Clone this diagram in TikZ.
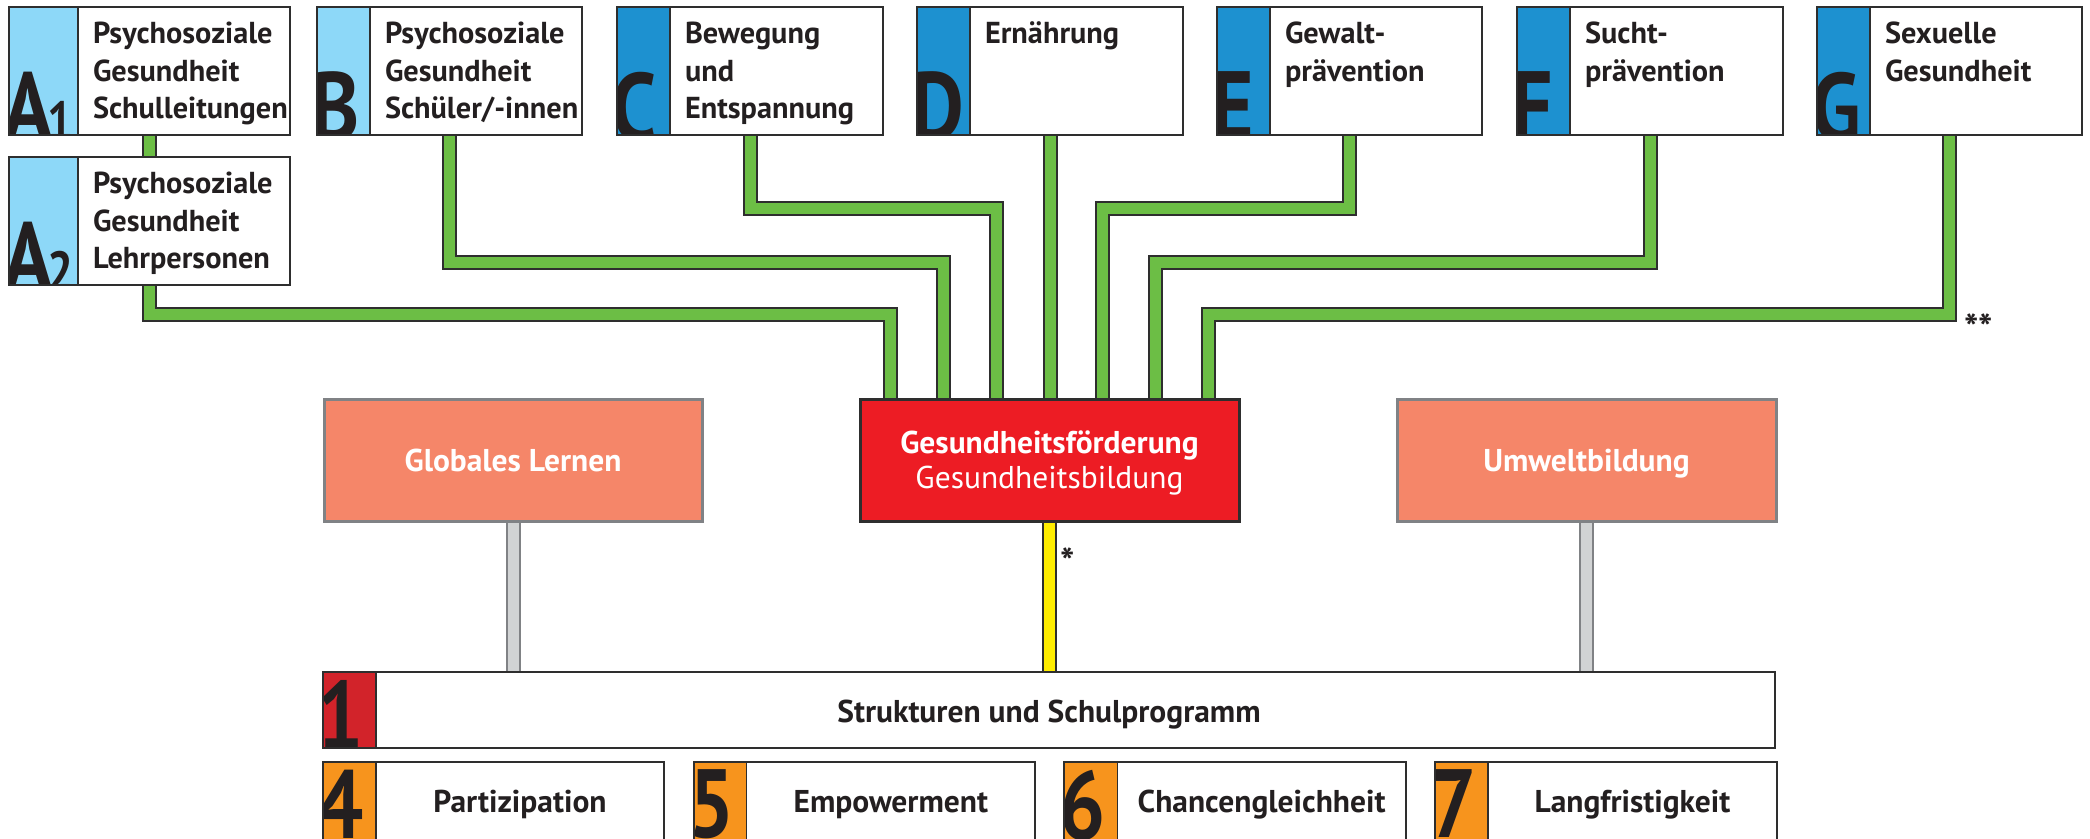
\documentclass[tikz,border=0pt]{standalone}
\usepackage{fontspec}
\setmainfont{PT Sans}
\usetikzlibrary{calc}
\pgfdeclarelayer{bg}
\pgfsetlayers{bg,main}
\definecolor{lblue}{HTML}{8DD8F8}
\definecolor{mblue}{HTML}{1D91D0}
\definecolor{lgreen}{HTML}{6CBE45}
\definecolor{outl}{HTML}{2E2E2E}
\definecolor{salmon}{HTML}{F58669}
\definecolor{sgrey}{HTML}{808285}
\definecolor{gfred}{HTML}{ED1C24}
\definecolor{yel}{HTML}{FFED00}
\definecolor{lgrey}{HTML}{D1D3D4}
\definecolor{dred}{HTML}{D2232A}
\definecolor{orng}{HTML}{F7941D}
\definecolor{ink}{HTML}{231F20}
\tikzset{
  topbg/.style={rectangle, fill=white, inner sep=0pt, minimum height=128pt},
  botbg/.style={rectangle, fill=white, inner sep=0pt, minimum height=100pt, minimum width=341pt},
  bigl/.style={inner sep=0pt, text=ink, font=\fontsize{97}{97}\selectfont\bfseries, xscale=0.84},
  toptext/.style={inner sep=0pt, text=ink, align=left, text width=250pt, font=\fontsize{30.3}{37.3}\selectfont\bfseries},
  plain/.style={inner sep=0pt, text=ink, font=\fontsize{31.5}{36}\selectfont\bfseries},
  midbox/.style={rectangle, draw=sgrey, line width=3pt, fill=salmon, minimum width=378pt, minimum height=122pt, inner sep=0pt},
  whitetext/.style={inner sep=0pt, text=white, font=\fontsize{31.5}{36}\selectfont\bfseries},
  gconn/.style={draw=outl, line width=2pt, double=lgreen, double distance=11pt},
  yconn/.style={draw=outl, line width=2pt, double=yel, double distance=11pt},
  greyconn/.style={draw=sgrey, line width=2pt, double=lgrey, double distance=11pt},
  star/.style={inner sep=0pt, text=ink, font=\fontsize{38}{40}\selectfont\bfseries},
}
\newcommand{\mkTop}[8]{%
  \node[topbg, minimum width=#4pt] (#1) at (#2,#3) {};
  \fill[#6] (#1.north west) rectangle ($(#1.south west)+(#5pt,0pt)$);
  \begin{scope}
    \clip (#1.north west) rectangle ($(#1.south west)+(#5pt,0pt)$);
    \node[bigl, anchor=north west] (#1L) at ($(#1.north west)+(-5pt,-65pt)$) {#7};
  \end{scope}
  \draw[outl, line width=1.5pt] ($(#1.north west)+(#5pt,0pt)$) -- ($(#1.south west)+(#5pt,0pt)$);
  \draw[outl, line width=2pt] (#1.north west) rectangle (#1.south east);
  \node[toptext, anchor=base west] (#1T) at ($(#1.north west)+(#5pt+15pt,-37pt)$) {#8};
}
\newcommand{\mkBot}[4]{%
  \node[botbg] (#1) at (#2+170.5,812) {};
  \fill[orng] (#1.north west) rectangle ($(#1.south west)+(53pt,0pt)$);
  \begin{scope}
    \clip (#1.north west) rectangle ($(#1.south west)+(53pt,0pt)$);
    \node[bigl, anchor=north west] (#1L) at ($(#1.north west)+(-5pt,-8pt)$) {#3};
  \end{scope}
  \draw[outl, line width=1.5pt] ($(#1.north west)+(53pt,0pt)$) -- ($(#1.south west)+(53pt,0pt)$);
  \draw[outl, line width=2pt] (#1.north west) rectangle (#1.south east);
  \node[plain, anchor=base] (#1T) at (#2+197,812) {#4};
}
\begin{document}
\begin{tikzpicture}[x=1pt,y=-1pt]
\useasboundingbox (0,0) rectangle (2090,838);
\clip (0,0) rectangle (2090,838);

% top boxes
\mkTop{A1}{149.5}{71}{281}{69}{lblue}{A\kern-7pt{\fontsize{55}{55}\selectfont 1}}{Psychosoziale\\Gesundheit\\Schulleitungen}
\mkTop{A2}{149.5}{221}{281}{69}{lblue}{A\kern-7pt{\fontsize{55}{55}\selectfont 2}}{Psychosoziale\\Gesundheit\\Lehrpersonen}
\mkTop{B}{449.5}{71}{265}{53}{lblue}{B}{Psychosoziale\\Gesundheit\\Schüler/-innen}
\mkTop{C}{750}{71}{266}{53}{mblue}{C}{Bewegung\\und\\Entspannung}
\mkTop{D}{1050}{71}{266}{53}{mblue}{D}{Ernährung}
\mkTop{E}{1349.5}{71}{265}{53}{mblue}{E}{Gewalt-\\prävention}
\mkTop{F}{1650}{71}{266}{53}{mblue}{F}{Sucht-\\prävention}
\mkTop{G}{1949.5}{71}{265}{53}{mblue}{G}{Sexuelle\\Gesundheit}

% middle boxes
\node[midbox] (GL) at (513,460) {};
\node[whitetext, anchor=base] (GLt) at (513,471) {Globales Lernen};
\node[midbox, draw=outl, fill=gfred, minimum width=379pt] (GF) at (1049.5,460) {};
\node[whitetext, anchor=base] (GFt) at (1049.5,453) {Gesundheitsförderung};
\node[whitetext, font=\fontsize{31.5}{36}\selectfont, anchor=base] (GFs) at (1049.5,488) {Gesundheitsbildung};
\node[midbox, minimum width=379pt] (UB) at (1586.5,460) {};
\node[whitetext, anchor=base] (UBt) at (1586.5,471) {Umweltbildung};

% Strukturen
\node[rectangle, fill=white, inner sep=0pt, minimum width=1452pt, minimum height=76pt] (S) at (1049,710) {};
\fill[dred] (S.north west) rectangle ($(S.south west)+(53pt,0pt)$);
\begin{scope}
  \clip (S.north west) rectangle ($(S.south west)+(53pt,0pt)$);
  \node[bigl, anchor=north west] (SL) at ($(S.north west)+(-5pt,-8pt)$) {1};
\end{scope}
\draw[outl, line width=1.5pt] ($(S.north west)+(53pt,0pt)$) -- ($(S.south west)+(53pt,0pt)$);
\draw[outl, line width=2.5pt] (S.north west) rectangle (S.south east);
\node[plain, anchor=base] (ST) at (1049,722) {Strukturen und Schulprogramm};

% bottom boxes
\mkBot{P4}{323}{4}{Partizipation}
\mkBot{P5}{693.8}{5}{Empowerment}
\mkBot{P6}{1064.6}{6}{Chancengleichheit}
\mkBot{P7}{1435.4}{7}{Langfristigkeit}

% stars
\node[star, anchor=base west] (st1) at (1060,575) {*};
\node[star, anchor=base west] (st2) at (1964,341) {**};

% connectors
\begin{pgfonlayer}{bg}
\fill[white] (0,0) rectangle (2090,838);
\draw[gconn] (A1.south) -- (A2.north);
\draw[gconn] (A2.south) |- ($(GF.north)+(-159pt,83pt)$) -- ($(GF.north)+(-159pt,0pt)$);
\draw[gconn] (B.south) |- ($(GF.north)+(-106pt,135pt)$) -- ($(GF.north)+(-106pt,0pt)$);
\draw[gconn] (C.south) |- ($(GF.north)+(-53pt,189pt)$) -- ($(GF.north)+(-53pt,0pt)$);
\draw[gconn] (D.south) -- (D.south |- GF.north);
\draw[gconn] (E.south) |- ($(GF.north)+(53pt,189pt)$) -- ($(GF.north)+(53pt,0pt)$);
\draw[gconn] (F.south) |- ($(GF.north)+(106pt,135pt)$) -- ($(GF.north)+(106pt,0pt)$);
\draw[gconn] (G.south) |- ($(GF.north)+(159pt,83pt)$) -- ($(GF.north)+(159pt,0pt)$);
\draw[yconn] (GF.south) -- (GF.south |- S.north);
\draw[greyconn] (GL.south) -- (GL.south |- S.north);
\draw[greyconn] (UB.south) -- (UB.south |- S.north);
\end{pgfonlayer}
\end{tikzpicture}
\end{document}
